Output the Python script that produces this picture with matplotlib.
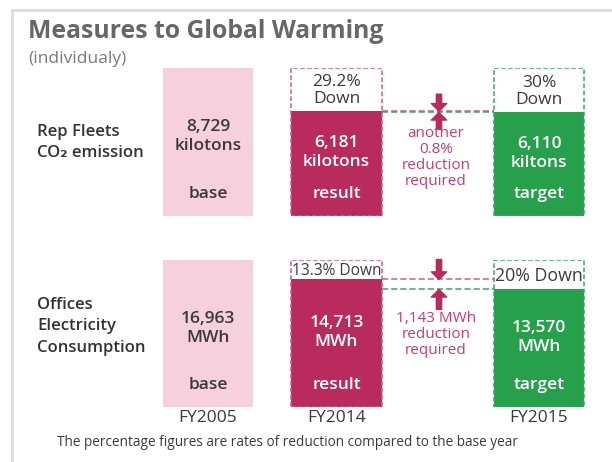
import matplotlib
matplotlib.use('Agg')
import matplotlib.pyplot as plt
from matplotlib.lines import Line2D

plt.rcParams['font.family'] = ['Open Sans', 'DejaVu Sans']

# 数据
years = ['FY2005', 'FY2014', 'FY2015']
roles = ['base', 'result', 'target']
row_names = [['Rep Fleets', 'CO\u2082 emission'], ['Offices', 'Electricity', 'Consumption']]
co2_values = [8729, 6181, 6110]
co2_units = ['kilotons', 'kilotons', 'kiltons']
elec_values = [16963, 14713, 13570]
elec_units = ['MWh', 'MWh', 'MWh']
co2_down = [['29.2%', 'Down'], ['30%', 'Down']]
elec_down = [['13.3% Down'], ['20% Down']]
gap_notes = [['another', '0.8%', 'reduction', 'required'],
             ['1,143 MWh', 'reduction', 'required']]

W, H = 612, 462
fig = plt.figure(figsize=(W / 100, H / 100), dpi=100)

c_base = '#f6d0dc'
c_result = '#b92b5c'
c_target = '#27a04b'
c_pink_line = '#cf5a86'
c_green_line = '#3aa566'
c_text = '#3a3a3a'
c_note = '#c63c72'

xs = [208, 336.5, 539]
widths = [90, 91, 90]
# 每行的像素上下边界
rows = [(68, 216), (260, 407)]
arrow_px = [17, 20]

over = fig.add_axes([0, 0, 1, 1])
over.set_xlim(0, W)
over.set_ylim(H, 0)
over.axis('off')
over.patch.set_alpha(0)
over.set_zorder(10)


def put_lines(x, yc, lines, step, **kw):
    n = len(lines)
    for k, s in enumerate(lines):
        over.text(x, yc + (k - (n - 1) / 2) * step, s, va='center', **kw)


# 外框
over.add_line(Line2D([12, W], [10, 10], color='#dddddd', lw=2))
over.add_line(Line2D([12, 12], [10, H], color='#dddddd', lw=2))

over.text(28, 31, 'Measures to Global Warming', fontsize=17.8, fontweight='bold',
          color='#676767', va='center', ha='left')
over.text(28, 59, '(individualy)', fontsize=12.5, color='#7a7a7a', va='center')

all_vals = [co2_values, elec_values]
all_units = [co2_units, elec_units]
all_down = [co2_down, elec_down]
down_fs = [[12.5, 12.5], [11.2, 12.8]]
note_y = [157.5, 334.5]
name_y = [142.5, 326.3]

for r, (top, bot) in enumerate(rows):
    vals = all_vals[r]
    base = vals[0]
    ax = fig.add_axes([0, 1 - bot / H, 1, (bot - top) / H])
    ax.set_xlim(0, W)
    ax.set_ylim(0, base)
    ax.axis('off')
    ax.patch.set_alpha(0)
    ax.bar(xs, vals, width=widths, color=[c_base, c_result, c_target], zorder=2)
    ax.bar(xs[1:], [base, base], width=widths[1:], fill=False,
           edgecolor=[c_pink_line, c_green_line], linestyle=(0, (3, 1.6)), lw=1.1, zorder=3)
    x0 = xs[1] + widths[1] / 2
    x1 = xs[2] - widths[2] / 2
    ax.plot([x0, x1], [vals[1], vals[1]], color=c_pink_line, ls=(0, (4, 2)), lw=1.1, zorder=3)
    ax.plot([x0, x1], [vals[2], vals[2]], color=c_green_line, ls=(0, (4, 2)), lw=1.1, zorder=3)
    ap = dict(arrowstyle='simple,head_length=0.55,head_width=1.1,tail_width=0.38',
              color=c_result, shrinkA=0, shrinkB=0, mutation_scale=10)
    ax.annotate('', xy=(439, vals[1]), xytext=(0, arrow_px[r] * 0.72),
                textcoords='offset points', arrowprops=ap)
    ax.annotate('', xy=(439, vals[2]), xytext=(0, -arrow_px[r] * 0.72),
                textcoords='offset points', arrowprops=ap)

    # 条形内文字
    h = bot - top
    role_y = bot - 22
    for i in range(3):
        bar_top = bot - h * vals[i] / base
        col = c_text if i == 0 else 'white'
        if i == 0:
            yc = top + 0.40 * h + 9.5
        else:
            yc = (bar_top + role_y) / 2
        put_lines(xs[i], yc, ['{:,}'.format(vals[i]), all_units[r][i]], 19,
                  fontsize=12.5, fontweight='semibold', color=col, ha='center')
        over.text(xs[i], role_y, roles[i], fontsize=12.5, fontweight='semibold',
                  color=col, ha='center', va='center')
        if i > 0:
            put_lines(xs[i], (top + bar_top) / 2 + 1, all_down[r][i - 1], 17,
                      fontsize=down_fs[r][i - 1], color=c_text, ha='center')

    put_lines(436, note_y[r], gap_notes[r], 16.2, fontsize=11, color=c_note, ha='center')
    put_lines(37, name_y[r], row_names[r], 21.4, fontsize=12, fontweight='semibold',
              color='#333333', ha='left')

for i in range(3):
    over.text(xs[i], 418, years[i], fontsize=12.5, color=c_text, ha='center', va='center')

over.text(57, 443, 'The percentage figures are rates of reduction compared to the base year',
          fontsize=9.8, color=c_text, ha='left', va='center')

fig.savefig('out.png', dpi=100, facecolor='white')
